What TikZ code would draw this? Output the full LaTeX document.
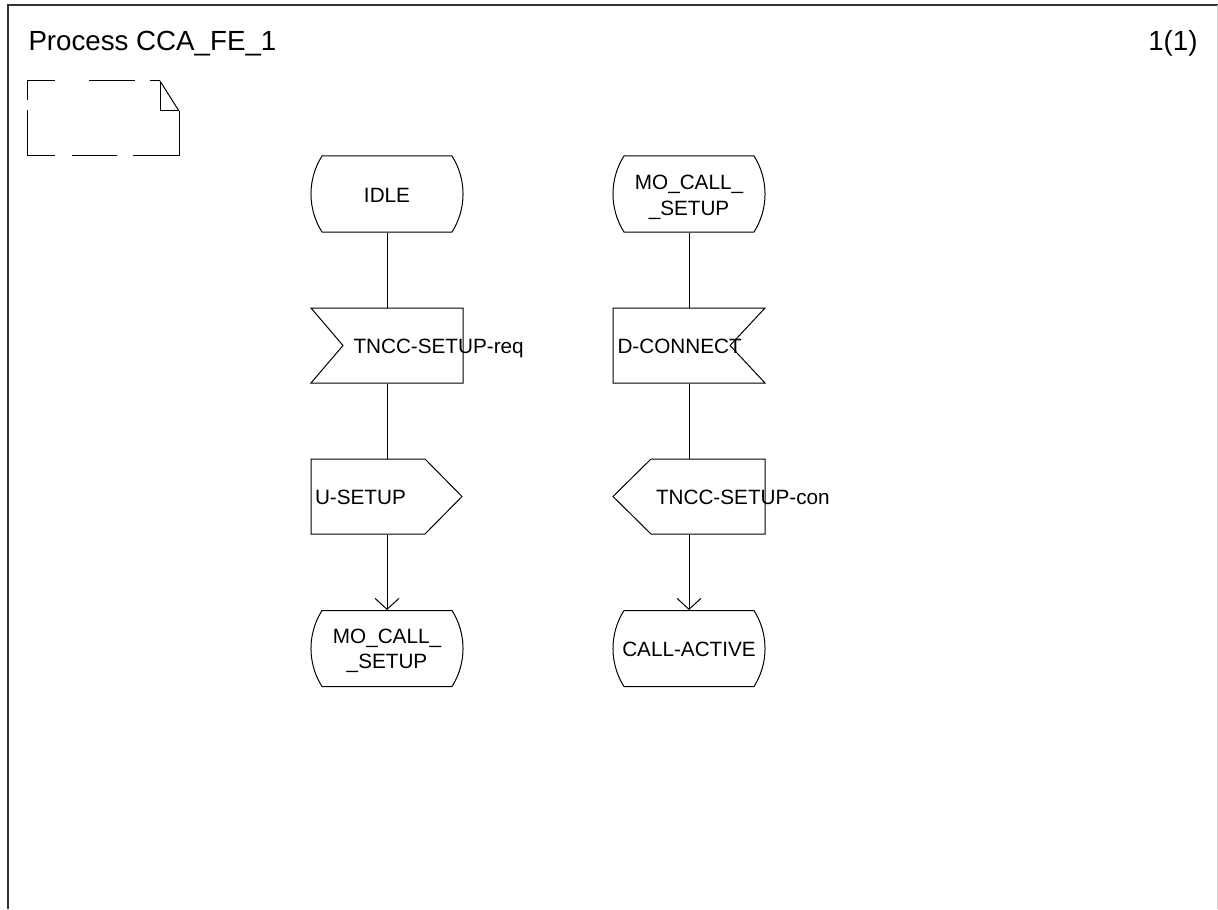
\documentclass[tikz,border=0pt]{standalone}
\usepackage{fontspec}
\setmainfont{Liberation Sans}
\usetikzlibrary{arrows.meta,calc}
\newcommand\StateShape[2]{\draw (#1-65,#2-38) -- (#1+65,#2-38) .. controls (#1+79.7,#2-14.8) and (#1+79.7,#2+14.8) .. (#1+65,#2+38) -- (#1-65,#2+38) .. controls (#1-79.7,#2+14.8) and (#1-79.7,#2-14.8) .. (#1-65,#2-38) -- cycle;}
\newcommand\InLeftShape[2]{\draw (#1-76,#2-37.5) -- (#1+76,#2-37.5) -- (#1+76,#2+37.5) -- (#1-76,#2+37.5) -- (#1-44,#2) -- cycle;}
\newcommand\InRightShape[2]{\draw (#1-76,#2-37.5) -- (#1+76,#2-37.5) -- (#1+41,#2) -- (#1+76,#2+37.5) -- (#1-76,#2+37.5) -- cycle;}
\newcommand\OutRightShape[2]{\draw (#1-76,#2-37.5) -- (#1+38,#2-37.5) -- (#1+75,#2) -- (#1+38,#2+37.5) -- (#1-76,#2+37.5) -- cycle;}
\newcommand\OutLeftShape[2]{\draw (#1-76,#2) -- (#1-38,#2-37.5) -- (#1+76,#2-37.5) -- (#1+76,#2+37.5) -- (#1-38,#2+37.5) -- cycle;}
\begin{document}
\begin{tikzpicture}[x=0.5pt,y=-0.5pt,line width=0.5pt,
  sbox/.style={rectangle,inner sep=0pt,minimum width=76pt,minimum height=38pt},
  gbox/.style={rectangle,inner sep=0pt,minimum width=76pt,minimum height=37.5pt},
  lbl/.style={inner sep=0pt,font=\fontsize{10.35pt}{12.5pt}\selectfont},
  ttl/.style={inner sep=0pt,font=\fontsize{13.85pt}{16pt}\selectfont},
  frame/.style={draw=black!80,line width=0.6pt},
  arr/.style={-{Straight Barb[length=5.5pt,width=12pt]}}]
\useasboundingbox (0,0) rectangle (1218,909);
% frame
\draw[frame] (8,909) -- (8,5) -- (1218,5);
\draw[black!20,line width=0.5pt] (1217.5,5) -- (1217.5,909);
\node[ttl,anchor=base west] (title) at (28,51) {Process CCA\_FE\_1};
\node[ttl,anchor=base east] (page) at (1198,51) {1(1)};
% comment symbol
\draw (27,81) -- (55,81); \draw (89,81) -- (135,81); \draw (150,81) -- (160,81);
\draw (27,81) -- (27,100); \draw (27,110) -- (27,156);
\draw (27,156) -- (55,156); \draw (72,156) -- (117,156); \draw (133,156) -- (179,156);
\draw (179,111) -- (179,156);
\draw (160,81) -- (179,111);
\draw (160,81) -- (160,111) -- (179,111);
% symbol nodes
\node[sbox] (s1) at (387,194) {};
\node[gbox] (i1) at (387,345.5) {};
\node[gbox] (o1) at (387,496.5) {};
\node[sbox] (s2) at (387,648.5) {};
\node[sbox] (s3) at (689,194) {};
\node[gbox] (i2) at (689,345.5) {};
\node[gbox] (o2) at (689,496.5) {};
\node[sbox] (s4) at (689,648.5) {};
\StateShape{387}{194}
\InLeftShape{387}{345.5}
\OutRightShape{387}{496.5}
\StateShape{387}{648.5}
\StateShape{689}{194}
\InRightShape{689}{345.5}
\OutLeftShape{689}{496.5}
\StateShape{689}{648.5}
% connectors
\draw (s1.south) -- (i1.north);
\draw (i1.south) -- (o1.north);
\draw[arr] (o1.south) -- (s2.north);
\draw (s3.south) -- (i2.north);
\draw (i2.south) -- (o2.north);
\draw[arr] (o2.south) -- (s4.north);
% labels
\node[lbl,anchor=base] (t1) at (387,202) {IDLE};
\node[lbl,anchor=base] (t3a) at (689,190) {MO\_CALL\_};
\node[lbl,anchor=base] (t3b) at (689,215) {\_SETUP};
\node[lbl,anchor=base west] (t2) at (353,353) {TNCC-SETUP-req};
\node[lbl,anchor=base west] (t4) at (617,353) {D-CONNECT};
\node[lbl,anchor=base west] (t5) at (314.5,504) {U-SETUP};
\node[lbl,anchor=base west] (t6) at (655.5,504) {TNCC-SETUP-con};
\node[lbl,anchor=base] (t7a) at (387,643) {MO\_CALL\_};
\node[lbl,anchor=base] (t7b) at (387,668) {\_SETUP};
\node[lbl,anchor=base] (t8) at (689,656) {CALL-ACTIVE};
\end{tikzpicture}
\end{document}
